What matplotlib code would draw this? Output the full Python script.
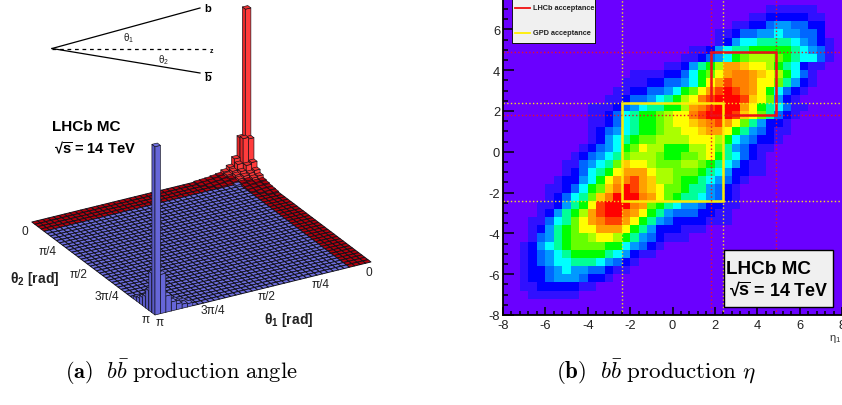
import numpy as np
import matplotlib
matplotlib.use("Agg")
import matplotlib.pyplot as plt
from matplotlib.colors import ListedColormap
from matplotlib.patches import Rectangle
from matplotlib.ticker import MultipleLocator
from mpl_toolkits.mplot3d import proj3d
from mpl_toolkits.mplot3d.art3d import Poly3DCollection

plt.rcParams["font.family"] = ["Liberation Sans", "DejaVu Sans"]
plt.rcParams["mathtext.fontset"] = "custom"
plt.rcParams["mathtext.rm"] = "Liberation Sans"
plt.rcParams["mathtext.bf"] = "Liberation Sans:bold"
plt.rcParams["mathtext.it"] = "Liberation Sans:italic"
plt.rcParams["axes.unicode_minus"] = False

W, H = 842, 406

# (b) eta map: colour level per bin, top row first, (first column, hex levels)
eta_rows = [
    (31, "111111"),
    (29, "112222211"),
    (27, "11223443322"),
    (25, "1123344544332"),
    (25, "12455666654321"),
    (22, "11245667777765431"),
    (21, "112345789998765531"),
    (19, "1124679ccbaa9765211"),
    (15, "1111223578acddcba97531"),
    (14, "1112233457aceddcaa86421"),
    (13, "1122334578acefedca75321"),
    (12, "1123345679adefffeba8421"),
    (10, "111234566779cdefffca765311"),
    (10, "1123567789aadefffeba86321"),
    (10, "1123567789aabcdeca864221"),
    (10, "12345677899aabcca7643211"),
    (10, "124567889999aaa97543221"),
    (9, "1234578a9977799a8643211"),
    (8, "1234568999877889a765321"),
    (7, "1134568baa98889987654211"),
    (7, "123567accca9988876542211"),
    (6, "122457acdecb99877654321"),
    (5, "1123578bdfecba887664321"),
    (5, "123568bdfffdca876654321"),
    (4, "112467aefffdc87654432211"),
    (4, "124679ceffdca7643332211"),
    (3, "113568acdeeca76432222111"),
    (3, "124678aaccca764222111"),
    (3, "13467889aa976432111"),
    (2, "12456788887754321"),
    (2, "1234567777654211"),
    (2, "12345566654321"),
    (2, "1223454433211"),
    (2, "12234443221"),
    (2, "112222211"),
    (3, "111111"),
]
eta_top_row = 37
eta_colors = ["#6a00ff", "#3010ff", "#0000ff", "#0066ff", "#0099ff", "#00ffff",
              "#00ff99", "#00ff00", "#66ff00", "#aaff00", "#ffff00", "#ffcc00",
              "#ffa000", "#ff8000", "#ff4000", "#ff0000"]
lhcb_range = [1.8, 4.9]
gpd_range = [-2.4, 2.4]

# (a) lego heights, percent of the b b-bar peak, bin 0 is theta = 0
n_bins = 40
red_bins = 4
far_corner = [
    [100, 22, 9.0, 5.5, 3.5, 2.0, 1.5, 1.0, 0.8, 0.6],
    [22, 23, 8.0, 4.5, 3.0, 1.8, 1.2, 1.0, 0.7, 0.5],
    [10, 8.0, 5.0, 3.5, 2.2, 1.5, 1.0, 0.7, 0.5, 0.0],
    [5.5, 4.5, 3.5, 2.5, 1.5, 1.0, 0.7, 0.5, 0.0, 0.0],
    [3.5, 3.0, 2.2, 1.5, 1.0, 0.0, 0.0, 0.0, 0.0, 0.0],
    [2.0, 1.8, 1.5, 1.0, 0.0, 0.0, 0.0, 0.0, 0.0, 0.0],
    [1.5, 1.2, 1.0, 0.7, 0.0, 0.0, 0.0, 0.0, 0.0, 0.0],
    [1.0, 1.0, 0.7, 0.5, 0.0, 0.0, 0.0, 0.0, 0.0, 0.0],
    [0.8, 0.7, 0.5, 0.0, 0.0, 0.0, 0.0, 0.0, 0.0, 0.0],
    [0.6, 0.5, 0.0, 0.0, 0.0, 0.0, 0.0, 0.0, 0.0, 0.0],
]
# counted back from theta = pi on both axes
near_corner = [
    [103, 24, 12, 7.0, 5.0, 3.0, 2.0],
    [24, 20, 6.0, 4.0, 2.5, 1.5, 1.0],
    [10, 6.0, 3.0, 2.0, 1.2, 0.8, 0.5],
    [5.5, 4.0, 2.0, 1.2, 0.8, 0.5, 0.0],
    [3.5, 2.5, 1.2, 0.8, 0.5, 0.0, 0.0],
    [2.5, 1.5, 0.8, 0.5, 0.0, 0.0, 0.0],
    [2.0, 1.0, 0.5, 0.0, 0.0, 0.0, 0.0],
]
left_ticks = ["0", "π/4", "π/2", "3π/4", "π"]
right_ticks = ["π", "3π/4", "π/2", "π/4", "0"]

fig = plt.figure(figsize=(W / 100, H / 100), dpi=100, facecolor="white")

# ---- right panel
ax = fig.add_axes([503 / W, (H - 316) / H, (W - 503) / W, 316 / H])
levels = np.zeros((n_bins, n_bins))
for k, (start, row) in enumerate(eta_rows):
    levels[eta_top_row - k, start:start + len(row)] = [int(c, 16) for c in row]
edges = np.linspace(-8, 8, n_bins + 1)
ax.pcolormesh(edges, edges, levels, cmap=ListedColormap(eta_colors), vmin=-0.5, vmax=15.5)
ax.set_xlim(-8, 8)
ax.set_ylim(-8, 7.49)
for v in lhcb_range:
    ax.axvline(v, color="#e8102a", lw=1, ls=":")
    ax.axhline(v, color="#e8102a", lw=1, ls=":")
for v in gpd_range:
    ax.axvline(v, color="#f5e020", lw=1, ls=":")
    ax.axhline(v, color="#f5e020", lw=1, ls=":")
ax.add_patch(Rectangle((lhcb_range[0], lhcb_range[0]), lhcb_range[1] - lhcb_range[0],
                       lhcb_range[1] - lhcb_range[0], fill=False, ec="#f01010", lw=1.8))
ax.add_patch(Rectangle((gpd_range[0], gpd_range[0]), gpd_range[1] - gpd_range[0],
                       gpd_range[1] - gpd_range[0], fill=False, ec="#ffee00", lw=1.8))
ax.xaxis.set_major_locator(MultipleLocator(2))
ax.xaxis.set_minor_locator(MultipleLocator(0.4))
ax.yaxis.set_major_locator(MultipleLocator(2))
ax.yaxis.set_minor_locator(MultipleLocator(0.5))
ax.tick_params(axis="y", which="major", direction="in", length=8, width=1.1, labelsize=9.3, pad=2, labelcolor="#222222")
ax.tick_params(axis="y", which="minor", direction="in", length=3.6, width=1.1)
ax.tick_params(axis="x", which="major", direction="in", length=5.8, width=1.1, labelsize=9.3, pad=3, labelcolor="#222222")
ax.tick_params(axis="x", which="minor", direction="in", length=2.9, width=1.1)
for side in ["top", "right"]:
    ax.spines[side].set_visible(False)
for side in ["left", "bottom"]:
    ax.spines[side].set_linewidth(1.3)

# ---- left panel: lego plot
heights = np.zeros((n_bins, n_bins))
for i, row in enumerate(far_corner):
    heights[i, :len(row)] = row
for i, row in enumerate(near_corner):
    for j, v in enumerate(row):
        heights[n_bins - 1 - i, n_bins - 1 - j] = v

lego = fig.add_axes([0, 0, 1, 1], projection="3d", computed_zorder=False)
lego.set_proj_type("ortho")
lego.view_init(elev=25.5, azim=60.3)
lego.set_xlim(0, np.pi)
lego.set_ylim(0, np.pi)
lego.set_zlim(0, 103)
lego.set_box_aspect((1, 1, 0.75), zoom=1)
lego.set_axis_off()
lego.patch.set_visible(False)


def screen(x, y, z):
    xp, yp, _ = proj3d.proj_transform(x, y, z, lego.get_proj())
    return lego.transData.transform((xp, yp))


# fit the square floor on its corners in the picture
size = 400.0
lego.set_position([0, 0, size / W, size / H])
fig.canvas.draw()
near = screen(np.pi, np.pi, 0)
right = screen(0, np.pi, 0)
size *= np.hypot(216, 53) / np.hypot(*(right - near))
lego.set_position([0, 0, size / W, size / H])
fig.canvas.draw()
near = screen(np.pi, np.pi, 0)
shift = np.array([155, H - 316]) - near
lego.set_position([shift[0] / W, shift[1] / H, size / W, size / H])

t = np.linspace(0, np.pi, n_bins + 1)
floor_polys, floor_cols = [], []
for i in range(n_bins):
    for j in range(n_bins):
        is_red = i < red_bins or j < red_bins
        if heights[i, j] == 0:
            floor_polys.append([(t[i], t[j], 0), (t[i + 1], t[j], 0), (t[i + 1], t[j + 1], 0), (t[i], t[j + 1], 0)])
            floor_cols.append("#b4000c" if is_red else "#6c6cdc")
floor = Poly3DCollection(floor_polys, facecolors=floor_cols, edgecolors="#101018", linewidths=0.65, zorder=1)
floor.set_clip_on(False)
lego.add_collection3d(floor)

order = 2
for i in range(n_bins):
    for j in range(n_bins):
        h = heights[i, j]
        if h == 0:
            continue
        is_red = i < red_bins or j < red_bins
        top = [(t[i], t[j], h), (t[i + 1], t[j], h), (t[i + 1], t[j + 1], h), (t[i], t[j + 1], h)]
        side_x = [(t[i + 1], t[j], 0), (t[i + 1], t[j + 1], 0), (t[i + 1], t[j + 1], h), (t[i + 1], t[j], h)]
        side_y = [(t[i], t[j + 1], 0), (t[i + 1], t[j + 1], 0), (t[i + 1], t[j + 1], h), (t[i], t[j + 1], h)]
        if is_red and h < 2.5:
            cols = ["#b4000c", "#b4000c", "#b4000c"]
        elif is_red:
            cols = ["#f03030", "#e82828", "#ff3c3c"]
        else:
            cols = ["#7070dd", "#5a5ac8", "#6666d8"]
        col = Poly3DCollection([top, side_x, side_y], facecolors=cols, edgecolors="#101018", linewidths=0.45, zorder=order)
        col.set_clip_on(False)
        lego.add_collection3d(col)
        order += 1

# ---- text and decorations in picture pixels
over = fig.add_axes([0, 0, 1, 1], zorder=10)
over.set_xlim(0, W)
over.set_ylim(H, 0)
over.axis("off")

over.plot([52, 200], [49.5, 9], color="black", lw=0.9)
over.plot([52, 200], [49.5, 74], color="black", lw=0.9)
over.plot([52, 208], [49.5, 49.5], color="black", lw=0.9, ls=(0, (3, 3)))
over.text(208, 9, "b", fontsize=8, fontweight="bold", ha="center", va="center")
over.text(208, 78, "b", fontsize=8, fontweight="bold", ha="center", va="center")
over.plot([204.5, 211], [73, 73], color="black", lw=0.8)
over.text(211, 51.5, "z", fontsize=5, fontweight="bold", ha="center", va="center")
over.text(129, 38, "θ$_1$", fontsize=7, color="#222222", ha="center", va="center")
over.text(163, 60, "θ$_2$", fontsize=7, color="#222222", ha="center", va="center")

over.text(52, 127, "LHCb MC", fontsize=11, fontweight="bold", ha="left", va="center")
over.text(54, 148, r"√$\overline{\mathbf{s}}$ = 14 TeV", fontsize=10.5, fontweight="bold", ha="left", va="center")

for label, x, y in zip(left_ticks, [25, 48, 79, 107, 146], [232, 252, 275, 297, 320]):
    over.text(x, y, label, fontsize=8.6, color="#222222", ha="center", va="center")
for label, x, y in zip(right_ticks, [160, 213, 267, 321, 369], [323, 311, 297, 285, 273]):
    over.text(x, y, label, fontsize=8.6, color="#222222", ha="center", va="center")
over.text(35, 279, "θ$_{\\mathbf{2}}$ [rad]", fontsize=10, fontweight="bold", color="#222222", ha="center", va="center")
over.text(289, 320, "θ$_{\\mathbf{1}}$ [rad]", fontsize=10, fontweight="bold", color="#222222", ha="center", va="center")

# legend and label boxes of the right panel
over.add_patch(Rectangle((513, -4), 83, 49, fc="black", ec="none"))
over.add_patch(Rectangle((512, -5), 82.5, 48.5, fc="#f0f0f0", ec="black", lw=0.6))
over.plot([515, 530], [9, 9], color="#f01010", lw=1.3)
over.plot([515, 530], [33.5, 33.5], color="#ffee00", lw=1.3)
over.text(533, 9, "LHCb acceptance", fontsize=5.3, fontweight="bold", color="#222222", ha="left", va="center")
over.text(533, 33.5, "GPD acceptance", fontsize=5.3, fontweight="bold", color="#222222", ha="left", va="center")

over.add_patch(Rectangle((723.5, 251), 109.5, 57, fc="#f0f0f0", ec="black", lw=1))
over.text(726, 270, "LHCb MC", fontsize=13.6, fontweight="bold", ha="left", va="center")
over.text(729, 291, r"√$\overline{\mathbf{s}}$ = 14 TeV", fontsize=12.9, fontweight="bold", ha="left", va="center")

over.text(835, 339, "η$_1$", fontsize=8, color="#333333", ha="center", va="center")

over.text(181, 372, r"$\mathbf{(a)}\ \ b\bar{b}\ \mathrm{production\ angle}$", fontsize=16.2,
          math_fontfamily="cm", ha="center", va="center")
over.text(656, 372, r"$\mathbf{(b)}\ \ b\bar{b}\ \mathrm{production}\ \eta$", fontsize=16.6,
          math_fontfamily="cm", ha="center", va="center")

fig.savefig("out.png", dpi=100)
